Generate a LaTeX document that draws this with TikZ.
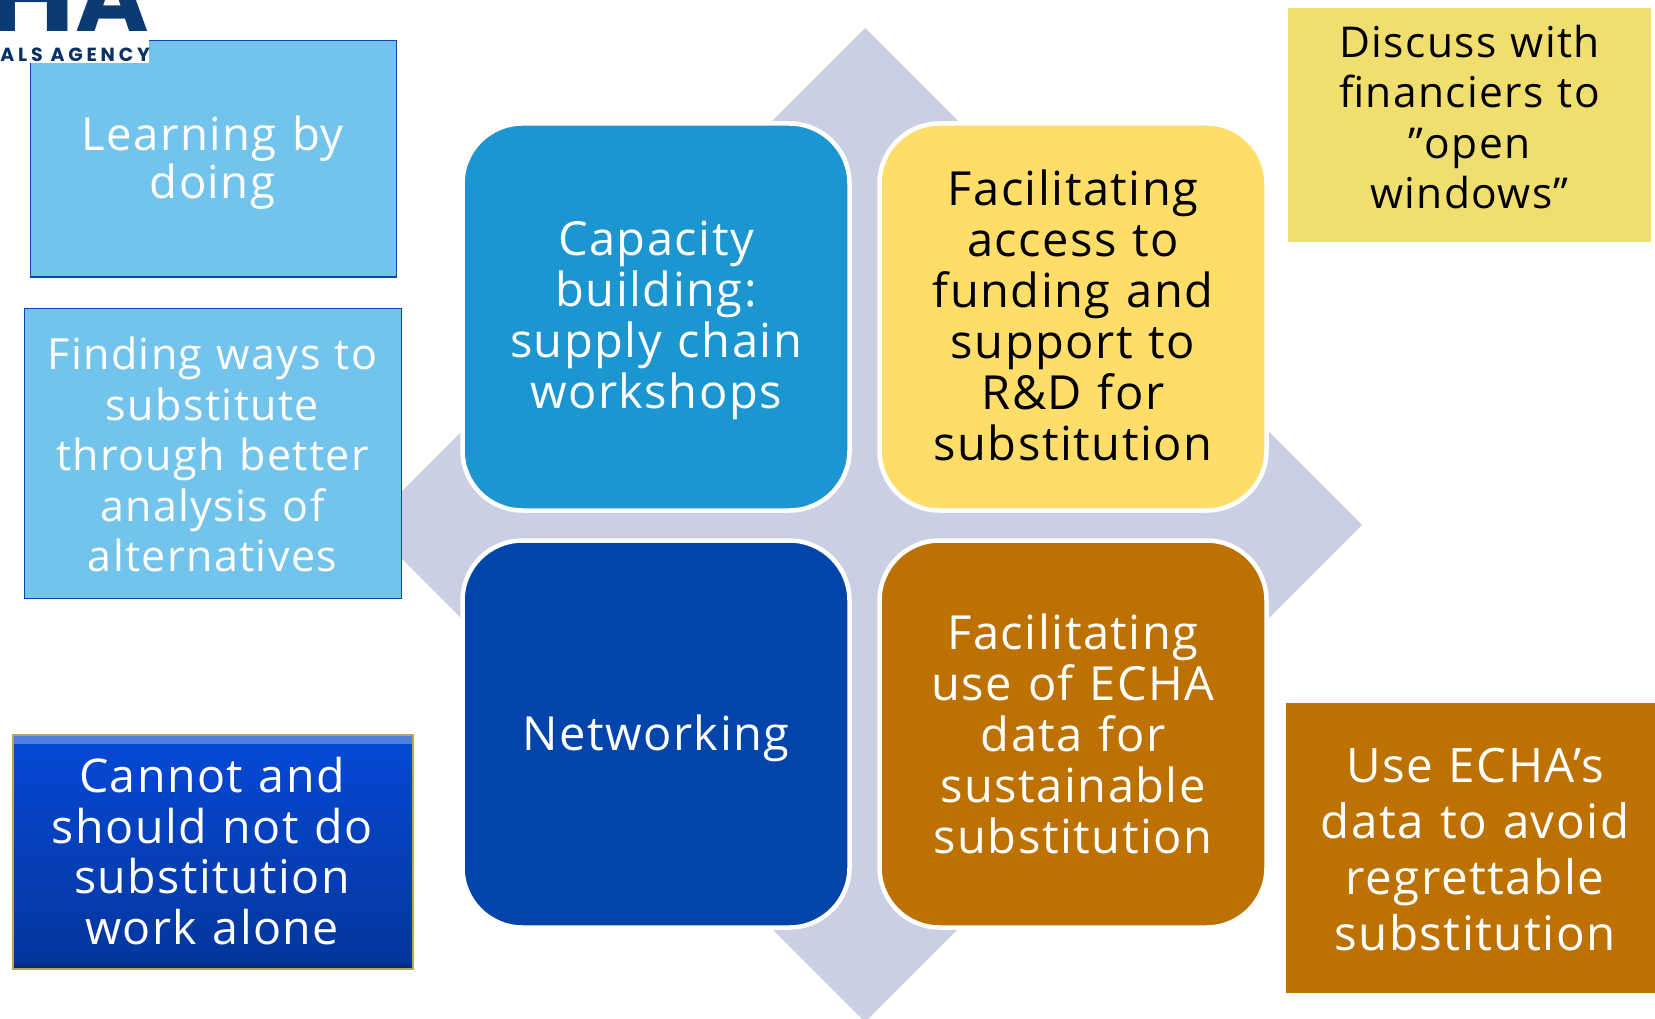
\documentclass[tikz,border=0pt]{standalone}
\usepackage{graphicx}
\usepackage{fontspec}
\setmainfont[LetterSpace=3.2,WordSpace=1.15]{Open Sans}
\newfontfamily\logofont[LetterSpace=20]{Poppins}
\newfontfamily\logobig{Poppins}
\definecolor{diam}{HTML}{CACFE4}
\definecolor{capb}{HTML}{1B96D0}
\definecolor{yel}{HTML}{FEDE69}
\definecolor{netb}{HTML}{0145AA}
\definecolor{ora}{HTML}{BD7100}
\definecolor{ltb}{HTML}{72C4ED}
\definecolor{ltbe}{HTML}{0A46AE}
\definecolor{yelb}{HTML}{F0DF6F}
\definecolor{logo}{HTML}{0B3A75}
\definecolor{altop}{HTML}{0649D8}
\definecolor{albot}{HTML}{04369A}
\tikzset{x=1pt,y=-1pt,
 tile/.style={rounded corners=60pt,draw=white,line width=4.5pt,minimum width=387pt,minimum height=387pt,inner sep=0pt},
 tiletext/.style={align=center,inner sep=0pt,font=\fontsize{47}{51}\selectfont},
 notetext/.style={align=center,inner sep=0pt,font=\fontsize{44}{50.5}\selectfont}}
\begin{document}
\begin{tikzpicture}
\useasboundingbox (0,0) rectangle (1655,1019);
\fill[diam] (865,28) -- (1362,525) -- (865,1022) -- (368,525) -- cycle;
\node[tile,fill=capb] (cap) at (656,317) {};
\node[tile,fill=yel] (fund) at (1073,317) {};
\node[tile,fill=netb] (net) at (656,734) {};
\node[tile,fill=ora] (eu) at (1073,734) {};
\node[tiletext,text=white] (capt) at (656,320.5) {Capacity\\building:\\supply chain\\workshops};
\node[tiletext,text=black] (fundt) at (1073,315) {Facilitating\\access to\\funding and\\support to\\R\&D for\\substitution};
\node[tiletext,text=white] (nett) at (656,738.5) {Networking};
\node[tiletext,text=white] (eut) at (1073,734) {Facilitating\\use of ECHA\\data for\\sustainable\\substitution};
\node[fill=ltb,draw=ltbe,line width=1.5pt,minimum width=366pt,minimum height=236pt,inner sep=0pt,anchor=north west] (learn) at (29.5,40) {};
\node[notetext,text=white,font=\fontsize{45.5}{48}\selectfont] (learnt) at (212.5,163) {Learning by\\doing};
\node[fill=ltb,draw=ltbe,line width=1.5pt,minimum width=377pt,minimum height=290pt,inner sep=0pt,anchor=north west] (ways) at (23.5,307.5) {};
\node[notetext,text=white,font=\fontsize{43}{50.5}\selectfont] (wayst) at (212.5,454.5) {Finding ways to\\substitute\\through better\\analysis of\\alternatives};
\node[notetext,draw=yelb!75!black,line width=1.5pt,minimum width=400pt,minimum height=234pt,anchor=north west,
  top color=altop,bottom color=albot,
  path picture={
    \shade[top color=altop!70!white,bottom color=altop] (path picture bounding box.north west) rectangle ([yshift=-9pt]path picture bounding box.north east);
    \shade[top color=albot,bottom color=albot!70!black] ([yshift=7pt]path picture bounding box.south west) rectangle (path picture bounding box.south east);
  }] (alone) at (12,734) {};
\node[notetext,text=white,font=\fontsize{46.5}{50.5}\selectfont] (alonet) at (212,851) {Cannot and\\should not do\\substitution\\work alone};
\node[fill=yelb,minimum width=363pt,minimum height=234pt,inner sep=0pt,anchor=north west] (disc) at (1288,7.5) {};
\node[notetext,text=black,font=\fontsize{42.5}{50.5}\selectfont] (disct) at (1469.5,117) {Discuss with\\financiers to\\”open\\windows”};
\node[fill=ora,minimum width=370pt,minimum height=290pt,inner sep=0pt,anchor=north west] (use) at (1286,703) {};
\node[notetext,text=white,font=\fontsize{47.5}{56}\selectfont] (uset) at (1475,850) {Use ECHA’s\\data to avoid\\regrettable\\substitution};
\fill[white] (0,0) rectangle (149,63);
\begin{scope}
\clip (0,0) rectangle (149,63);
\node[anchor=base east,inner sep=0pt,text=logo,font=\fontsize{100}{100}\selectfont\logobig\bfseries] (ha) at (149,32) {\scalebox{1.2}[1]{H}A};
\node[anchor=base east,inner sep=0pt,text=logo!85!black,font=\fontsize{19}{19}\selectfont\logofont\bfseries] (ag) at (150,62) {ALS AGENCY};
\end{scope}
\end{tikzpicture}
\end{document}
